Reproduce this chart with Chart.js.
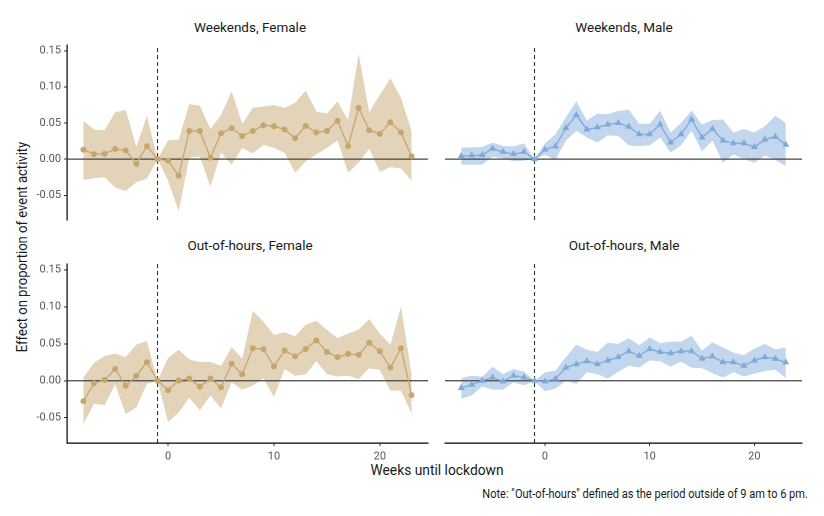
<!DOCTYPE html>
<html>
<head>
<meta charset="utf-8">
<script src="https://cdn.jsdelivr.net/npm/chart.js@4/dist/chart.umd.min.js"></script>
<style>
  body { margin: 0; background: #fff; font-family: "Roboto", sans-serif; }
  #wrap { position: relative; width: 824px; height: 516px; }
  canvas { position: absolute; }
  .lbl { position: absolute; color: #1a1a1a; white-space: nowrap; }
  .strip { font-size: 13.5px; transform: translateX(-50%); }
</style>
</head>
<body>
<div id="wrap">
  <div class="lbl strip" style="left:250px; top:19px;">Weekends, Female</div>
  <div class="lbl strip" style="left:624px; top:19px;">Weekends, Male</div>
  <div class="lbl strip" style="left:250px; top:237px;">Out-of-hours, Female</div>
  <div class="lbl strip" style="left:624px; top:237px;">Out-of-hours, Male</div>
  <div class="lbl" style="left:22px; top:247px; font-size:14.5px; transform:translate(-50%,-50%) rotate(-90deg) scaleX(0.9);">Effect on proportion of event activity</div>
  <div class="lbl" style="left:437px; top:461px; font-size:15px; transform:translateX(-50%) scaleX(0.92);">Weeks until lockdown</div>
  <div class="lbl" style="right:16px; top:487px; font-size:12px; transform-origin:right center; transform:scaleX(0.92);">Note: "Out-of-hours" defined as the period outside of 9 am to 6 pm.</div>
  <canvas id="c1"></canvas>
  <canvas id="c2"></canvas>
  <canvas id="c3"></canvas>
  <canvas id="c4"></canvas>
</div>
<script>
// semaines avant / après le confinement
const weeks = [-8, -7, -6, -5, -4, -3, -2, -1, 0, 1, 2, 3, 4, 5, 6, 7, 8, 9, 10, 11, 12, 13, 14, 15, 16, 17, 18, 19, 20, 21, 22, 23];

// Weekends, Female
const wfFit  = [0.013, 0.007, 0.0075, 0.014, 0.012, -0.0066, 0.018, 0, -0.002, -0.023, 0.039, 0.039, 0.002, 0.036, 0.043, 0.032, 0.039, 0.047, 0.0455, 0.041, 0.029, 0.046, 0.037, 0.039, 0.053, 0.018, 0.071, 0.040, 0.035, 0.051, 0.037, 0.004];
const wfHigh = [0.053, 0.041, 0.040, 0.065, 0.068, 0.017, 0.060, 0, 0.026, 0.027, 0.076, 0.074, 0.042, 0.061, 0.094, 0.049, 0.071, 0.073, 0.075, 0.071, 0.078, 0.095, 0.066, 0.063, 0.080, 0.054, 0.146, 0.065, 0.089, 0.112, 0.085, 0.039];
const wfLow  = [-0.029, -0.0265, -0.025, -0.039, -0.044, -0.032, -0.027, 0, -0.030, -0.072, 0.002, 0.0035, -0.038, 0.009, -0.0075, 0.0155, 0.008, 0.020, 0.0155, 0.009, -0.019, -0.003, 0.0066, 0.0155, 0.026, -0.019, -0.005, 0.0146, -0.0177, -0.011, -0.013, -0.030];

// Weekends, Male
const wmFit  = [0.0044, 0.005, 0.0057, 0.0146, 0.010, 0.007, 0.010, 0, 0.0133, 0.0177, 0.043, 0.061, 0.041, 0.044, 0.048, 0.050, 0.045, 0.0345, 0.0345, 0.048, 0.023, 0.0345, 0.055, 0.030, 0.042, 0.0256, 0.022, 0.022, 0.0168, 0.027, 0.031, 0.020];
const wmHigh = [0.016, 0.0163, 0.0168, 0.023, 0.018, 0.0177, 0.022, 0, 0.022, 0.0345, 0.058, 0.080, 0.0535, 0.063, 0.062, 0.067, 0.0685, 0.049, 0.049, 0.067, 0.0367, 0.050, 0.0676, 0.048, 0.054, 0.055, 0.0367, 0.042, 0.0367, 0.0455, 0.060, 0.050];
const wmLow  = [-0.0075, -0.0075, -0.0075, 0.0035, 0.0013, -0.003, -0.002, 0, 0.0057, -0.001, 0.0256, 0.039, 0.030, 0.023, 0.033, 0.032, 0.019, 0.018, 0.019, 0.030, 0.009, 0.019, 0.039, 0.011, 0.0256, -0.005, 0.0066, 0, -0.005, 0.005, -0.001, -0.0097];

// Out-of-hours, Female
const ofFit  = [-0.0275, -0.0036, 0.001, 0.016, -0.0067, 0.0067, 0.0253, 0, -0.0129, 0.0004, 0.003, -0.008, 0.003, -0.0089, 0.023, 0.0089, 0.044, 0.0426, 0.0195, 0.041, 0.033, 0.043, 0.0546, 0.039, 0.032, 0.0364, 0.035, 0.0515, 0.040, 0.0178, 0.044, -0.0195];
const ofHigh = [0.0044, 0.0244, 0.0337, 0.0368, 0.032, 0.049, 0.0537, 0, 0.031, 0.042, 0.029, 0.025, 0.0258, 0.020, 0.0457, 0.030, 0.0946, 0.080, 0.062, 0.0657, 0.060, 0.076, 0.081, 0.069, 0.0577, 0.064, 0.069, 0.0835, 0.0635, 0.049, 0.100, 0.0089];
const ofLow  = [-0.0586, -0.031, -0.033, -0.0053, -0.045, -0.036, -0.0044, 0, -0.056, -0.043, -0.023, -0.040, -0.020, -0.0377, -0.002, -0.012, -0.0067, 0.0036, -0.022, 0.016, 0.0067, 0.0089, 0.0266, 0.0089, 0.0058, 0.007, 0.0022, 0.0169, 0.0147, -0.0133, -0.0133, -0.0444];

// Out-of-hours, Male
const omFit  = [-0.0098, -0.0053, 0, 0.0044, -0.0009, 0.007, 0.0044, 0, -0.0009, 0.0027, 0.0178, 0.0226, 0.0266, 0.0226, 0.0275, 0.032, 0.040, 0.0337, 0.043, 0.039, 0.0373, 0.040, 0.040, 0.030, 0.033, 0.0253, 0.0253, 0.0204, 0.0275, 0.032, 0.0297, 0.0249];
const omHigh = [0.0036, 0.007, 0.0053, 0.019, 0.0089, 0.016, 0.0124, 0, 0.0115, 0.0138, 0.032, 0.0488, 0.042, 0.039, 0.0515, 0.050, 0.0577, 0.048, 0.0586, 0.051, 0.053, 0.053, 0.061, 0.041, 0.052, 0.045, 0.038, 0.0346, 0.0435, 0.0497, 0.0426, 0.045];
const omLow  = [-0.0244, -0.020, -0.0075, -0.012, -0.012, -0.0022, -0.0062, 0, -0.0142, -0.0107, 0, -0.0044, 0.0115, 0.0089, 0.0027, 0.0124, 0.0204, 0.0178, 0.0275, 0.0266, 0.019, 0.0257, 0.0178, 0.0169, 0.0102, 0.0044, 0.0115, 0.0058, 0.0098, 0.0133, 0.0147, 0.0036];

// axes
const xTicks = [0, 10, 20];
const yTicks = [-0.05, 0, 0.05, 0.10, 0.15];
const xRange = [-9.55, 24.55];
const yRange = [-0.0842, 0.158];
const lockdownWeek = -1;

const FONT = '"Roboto", sans-serif';
const female = { line: '#C6A66D', band: 'rgba(200,170,115,0.5)', style: 'circle', radius: 3 };
const male   = { line: '#7FAAD8', band: 'rgba(120,165,215,0.45)', style: 'triangle', radius: 4 };

function pts(vals) {
  return weeks.map((w, i) => ({ x: w, y: vals[i] }));
}

function buildChart(id, box, fit, low, high, pal, showX, showY) {
  const cv = document.getElementById(id);
  cv.style.left = box.left + 'px';
  cv.style.top = box.top + 'px';
  cv.width = box.w;
  cv.height = box.h;

  return new Chart(cv, {
    type: 'line',
    data: {
      datasets: [
        // série estimée
        { data: pts(fit), borderColor: pal.line, backgroundColor: pal.line, borderWidth: 1.3,
          pointStyle: pal.style, pointRadius: pal.radius, pointBorderWidth: 0, fill: false, tension: 0 },
        // ligne verticale du confinement
        { data: [{ x: lockdownWeek, y: yRange[0] }, { x: lockdownWeek, y: yRange[1] }],
          borderColor: '#333', borderWidth: 1.1, borderDash: [4, 3], pointRadius: 0, fill: false },
        // ligne zéro
        { data: [{ x: xRange[0], y: 0 }, { x: xRange[1], y: 0 }],
          borderColor: '#444', borderWidth: 1.2, pointRadius: 0, fill: false },
        // intervalle de confiance
        { data: pts(high), borderWidth: 0, borderColor: 'transparent', pointRadius: 0,
          backgroundColor: pal.band, fill: '+1', tension: 0 },
        { data: pts(low), borderWidth: 0, borderColor: 'transparent', pointRadius: 0, fill: false, tension: 0 }
      ]
    },
    options: {
      responsive: false,
      animation: false,
      devicePixelRatio: 2,
      layout: { padding: 0 },
      plugins: { legend: { display: false }, tooltip: { enabled: false } },
      scales: {
        x: {
          type: 'linear', min: xRange[0], max: xRange[1], display: showX,
          afterBuildTicks: (s) => { s.ticks = xTicks.map(v => ({ value: v })); },
          afterFit: (s) => {
            if (showX) s.height = 26;
            s.paddingLeft = 0; s.paddingRight = 0;
          },
          grid: { drawOnChartArea: false, drawTicks: true, tickLength: 3, color: '#333' },
          border: { display: true, color: '#000', width: 1.2 },
          ticks: { color: '#555', font: { family: FONT, size: 11 }, padding: 4, maxRotation: 0 }
        },
        y: {
          type: 'linear', min: yRange[0], max: yRange[1], display: showY,
          afterBuildTicks: (s) => { s.ticks = yTicks.map(v => ({ value: v })); },
          afterFit: (s) => {
            if (showY) s.width = 47;
            s.paddingTop = 0; s.paddingBottom = 0;
          },
          grid: { drawOnChartArea: false, drawTicks: true, tickLength: 3, color: '#333' },
          border: { display: true, color: '#000', width: 1.2 },
          ticks: { color: '#555', font: { family: FONT, size: 11 }, padding: 3,
            callback: (v) => v.toFixed(2) }
        }
      }
    }
  });
}

// positions des panneaux
buildChart('c1', { left: 20, top: 41, w: 412, h: 183 }, wfFit, wfLow, wfHigh, female, false, true);
buildChart('c2', { left: 441, top: 41, w: 365, h: 183 }, wmFit, wmLow, wmHigh, male, false, false);
buildChart('c3', { left: 20, top: 260, w: 412, h: 209 }, ofFit, ofLow, ofHigh, female, true, true);
buildChart('c4', { left: 441, top: 260, w: 365, h: 209 }, omFit, omLow, omHigh, male, true, false);
</script>
</body>
</html>
